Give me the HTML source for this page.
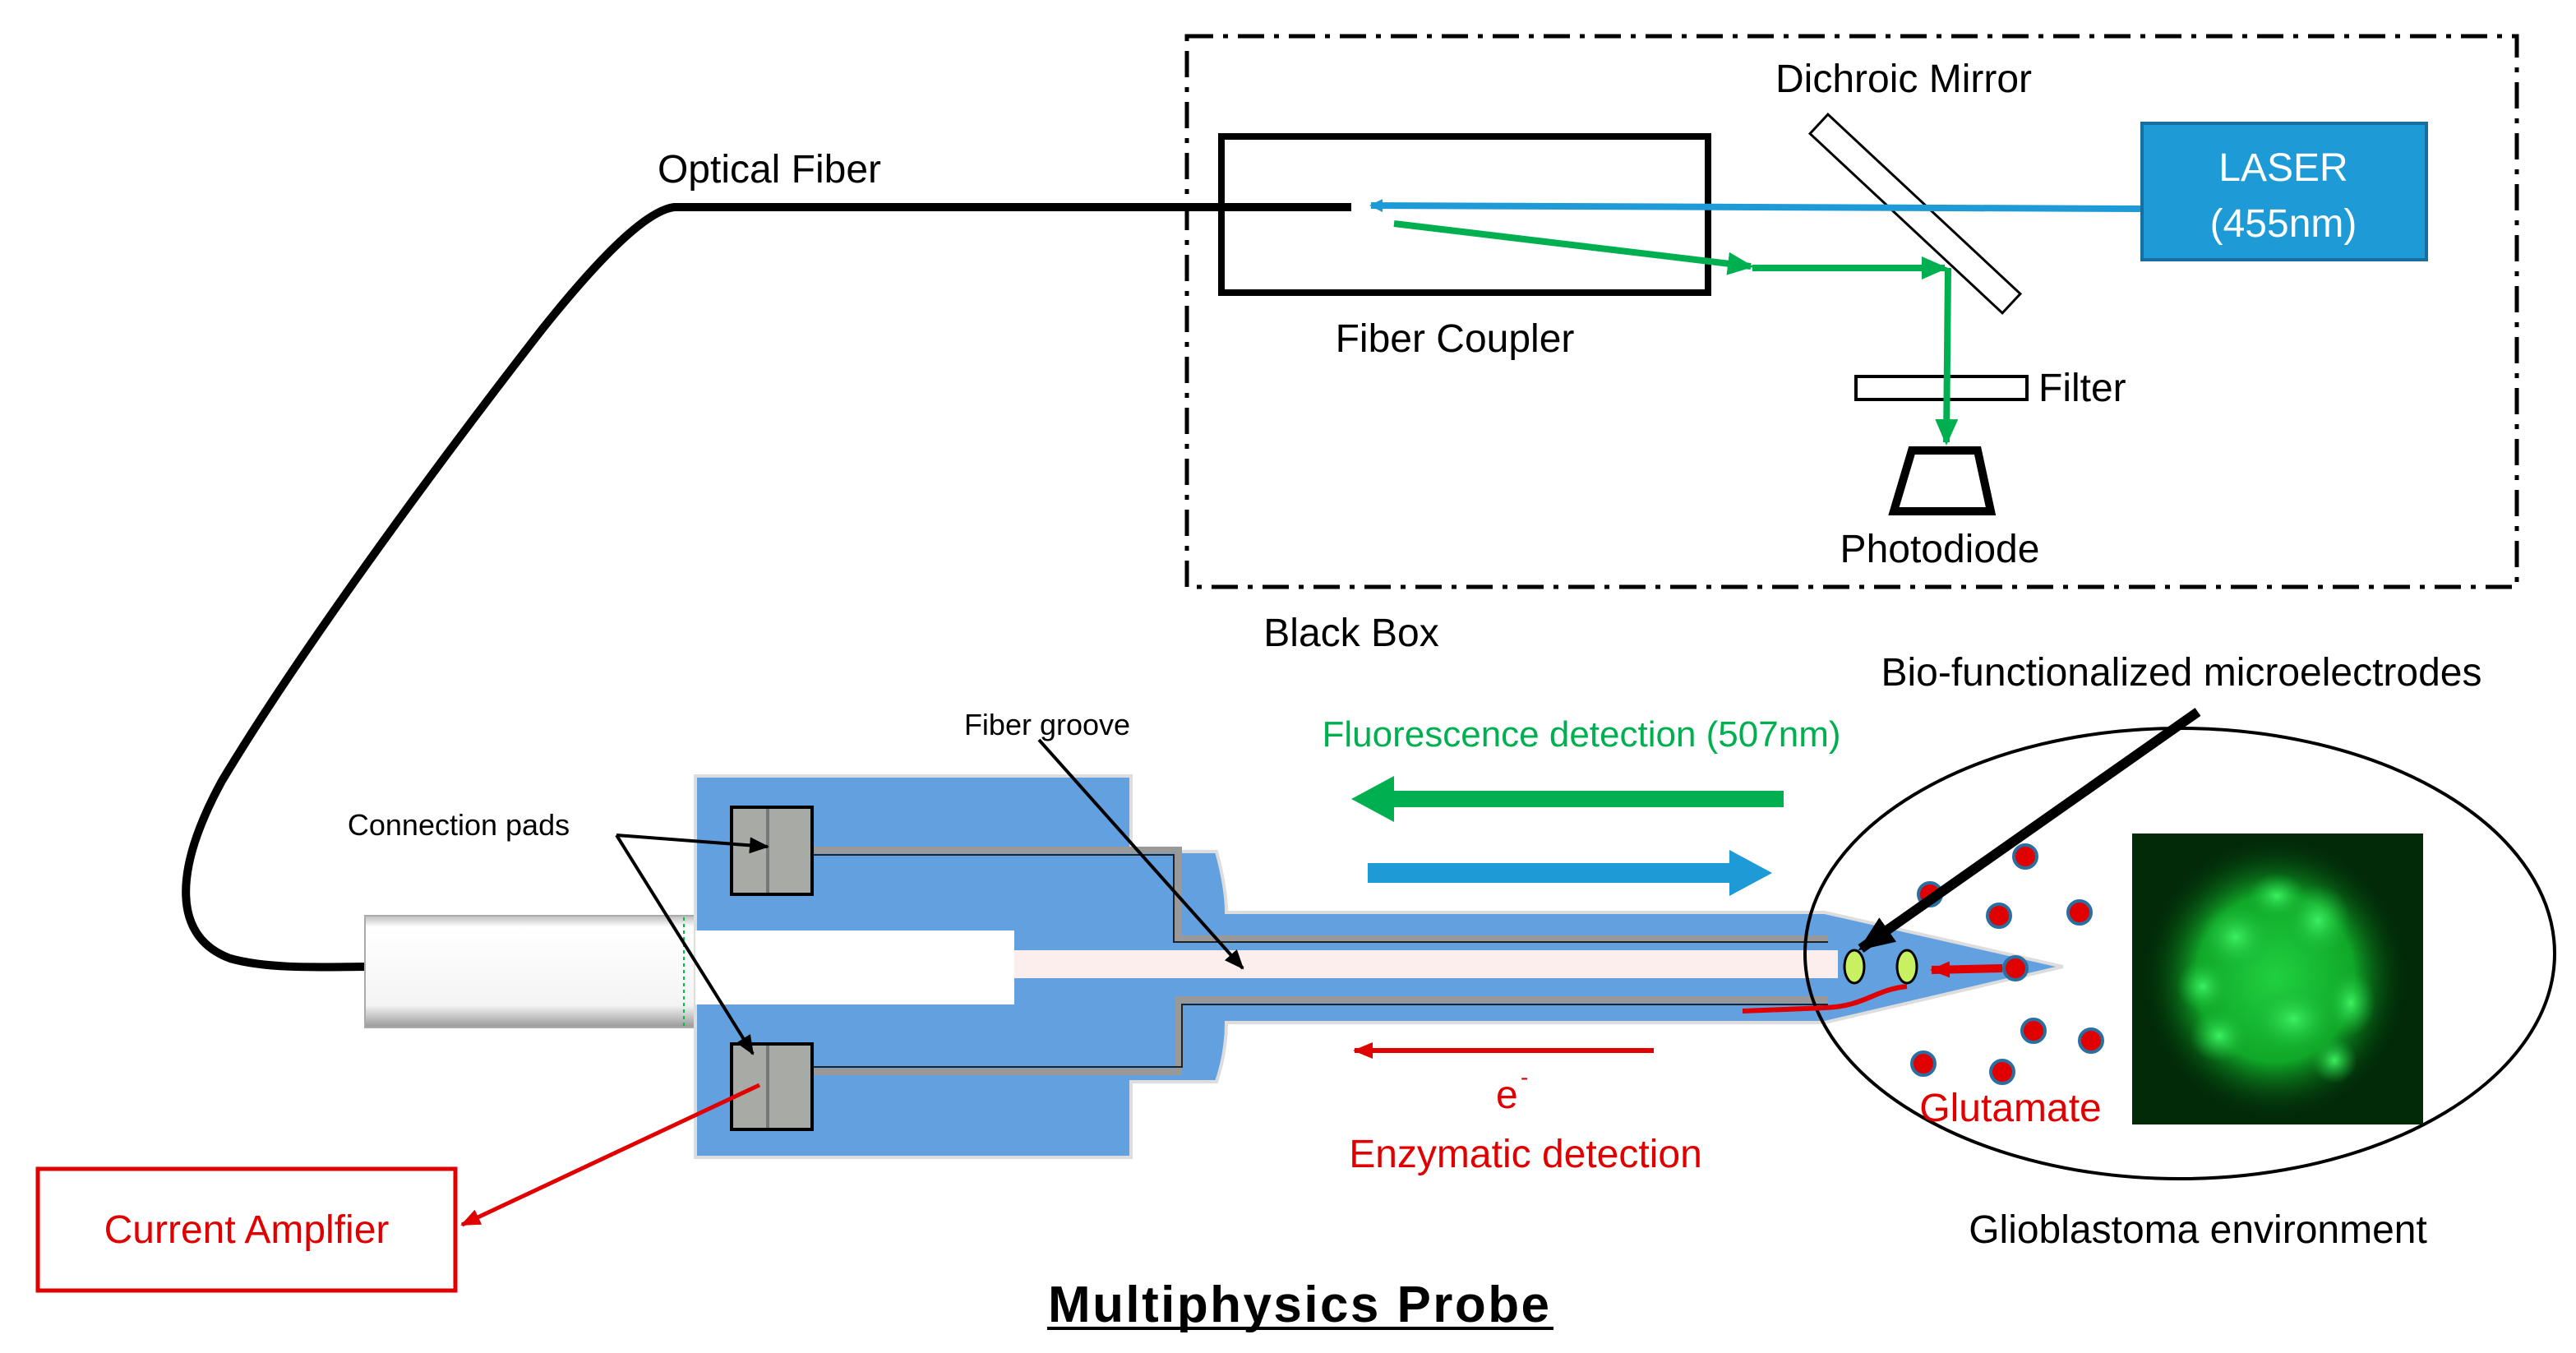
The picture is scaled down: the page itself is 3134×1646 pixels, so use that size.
<!DOCTYPE html>
<html><head><meta charset="utf-8"><style>
html,body{margin:0;padding:0;background:#fff;}
svg{display:block;}
text{font-family:"Liberation Sans","DejaVu Sans",sans-serif;}
</style></head><body>
<svg width="3134" height="1646" viewBox="0 0 1567 823" xmlns="http://www.w3.org/2000/svg">
<defs>
<marker id="ab" markerWidth="8" markerHeight="8" refX="7" refY="4" orient="auto" markerUnits="userSpaceOnUse"><path d="M0,0 L8,4 L0,8 Z" fill="#1e9ad6"/></marker>
<marker id="ag" markerWidth="16" markerHeight="14" refX="14" refY="7" orient="auto" markerUnits="userSpaceOnUse"><path d="M0,0 L16,7 L0,14 Z" fill="#00b050"/></marker>
<marker id="ak" markerWidth="12" markerHeight="10" refX="11" refY="5" orient="auto" markerUnits="userSpaceOnUse"><path d="M0,0 L12,5 L0,10 Z" fill="#000"/></marker>
<marker id="ak2" markerWidth="22" markerHeight="18" refX="20" refY="9" orient="auto" markerUnits="userSpaceOnUse"><path d="M0,0 L22,9 L0,18 Z" fill="#000"/></marker>
<marker id="ar" markerWidth="12" markerHeight="10" refX="11" refY="5" orient="auto" markerUnits="userSpaceOnUse"><path d="M0,0 L12,5 L0,10 Z" fill="#e00000"/></marker>
<linearGradient id="cyl" x1="0" y1="0" x2="0" y2="1"><stop offset="0" stop-color="#bbb"/><stop offset="0.1" stop-color="#fff"/><stop offset="0.8" stop-color="#f4f4f4"/><stop offset="1" stop-color="#999"/></linearGradient>
<radialGradient id="glow" cx="0.5" cy="0.5" r="0.5"><stop offset="0" stop-color="#20d040"/><stop offset="0.6" stop-color="#10a828"/><stop offset="1" stop-color="#033a0c" stop-opacity="0"/></radialGradient>
<radialGradient id="blob" cx="0.5" cy="0.5" r="0.5"><stop offset="0" stop-color="#3cf060"/><stop offset="1" stop-color="#18b034" stop-opacity="0"/></radialGradient>
</defs>

<rect x="722" y="22" width="809" height="335" fill="none" stroke="#000" stroke-width="2.5" stroke-dasharray="16,6,3,6"/>
<rect x="743" y="83" width="296" height="95" fill="none" stroke="#000" stroke-width="4"/>
<g transform="translate(1165,130) rotate(43)"><rect x="-80" y="-8" width="160" height="16" fill="#fff" stroke="#000" stroke-width="1.5"/></g>
<line x1="1302" y1="127" x2="834" y2="125" stroke="#1e9ad6" stroke-width="4" marker-end="url(#ab)"/>
<line x1="848" y1="136" x2="1065" y2="162" stroke="#00b050" stroke-width="4" marker-end="url(#ag)"/>
<line x1="1066" y1="163" x2="1183" y2="163" stroke="#00b050" stroke-width="4" marker-end="url(#ag)"/>
<rect x="1129" y="229" width="104" height="14" fill="none" stroke="#000" stroke-width="2"/>
<line x1="1185" y1="163" x2="1184" y2="269" stroke="#00b050" stroke-width="4" marker-end="url(#ag)"/>
<path d="M1163,274 L1203,274 L1211,311 L1152,311 Z" fill="none" stroke="#000" stroke-width="5"/>
<rect x="1303" y="75" width="173" height="83" fill="#1e9ad6" stroke="#176fa0" stroke-width="2"/>
<text x="1389" y="110" font-size="24" fill="#fff" text-anchor="middle">LASER</text>
<text x="1389" y="144" font-size="24" fill="#fff" text-anchor="middle">(455nm)</text>
<text x="1158" y="56" font-size="24" text-anchor="middle">Dichroic Mirror</text>
<text x="885" y="214" font-size="24" text-anchor="middle">Fiber Coupler</text>
<text x="1240" y="244" font-size="24">Filter</text>
<text x="1180" y="342" font-size="24" text-anchor="middle">Photodiode</text>
<text x="822" y="393" font-size="24" text-anchor="middle">Black Box</text>
<text x="468" y="111" font-size="24" text-anchor="middle">Optical Fiber</text>

<path d="M822,126 L410,126 C395,128 370,150 330,200 C260,290 180,400 135,475 C105,530 105,570 140,583 C165,590 200,588 225,588" fill="none" stroke="#000" stroke-width="5"/>

<rect x="222" y="557" width="201" height="68" fill="url(#cyl)" stroke="#aaa" stroke-width="1"/>
<line x1="416" y1="558" x2="416" y2="624" stroke="#00c040" stroke-width="1" stroke-dasharray="2,2"/>

<path d="M423,472 L688,472 L688,518 L740,518 Q746,540 746,555 L1110,555 L1255,588 L1110,622 L746,622 Q746,640 740,658 L688,658 L688,704 L423,704 Z" fill="#63a0e0" stroke="#ddd" stroke-width="2"/>
<rect x="423" y="566" width="194" height="45" fill="#fff"/>
<rect x="617" y="578" width="501" height="17" fill="#fdeeee"/>
<g fill="none" stroke-width="4">
<path d="M494,517 L717,517 L717,571 L1112,571" stroke="#999"/>
<path d="M494,652 L717,652 L717,608 L1112,608" stroke="#999"/>
</g>
<g fill="none" stroke="#222" stroke-width="1">
<path d="M494,520 L714,520 L714,573 L1112,573"/>
<path d="M494,649 L719,649 L719,611 L1112,611"/>
</g>
<rect x="445" y="491" width="49" height="53" fill="#a8aaa6" stroke="#000" stroke-width="2"/>
<line x1="467" y1="492" x2="467" y2="543" stroke="#777" stroke-width="2"/>
<rect x="445" y="635" width="49" height="52" fill="#a8aaa6" stroke="#000" stroke-width="2"/>
<line x1="467" y1="636" x2="467" y2="686" stroke="#777" stroke-width="2"/>

<ellipse cx="1326" cy="580" rx="228" ry="137" fill="none" stroke="#000" stroke-width="2"/>
<rect x="1297" y="507" width="177" height="177" fill="#022a08"/>
<ellipse cx="1384" cy="595" rx="80" ry="85" fill="url(#glow)"/>
<g fill="url(#blob)">
<ellipse cx="1360" cy="570" rx="22" ry="20"/><ellipse cx="1410" cy="560" rx="20" ry="22"/>
<ellipse cx="1395" cy="620" rx="25" ry="20"/><ellipse cx="1350" cy="630" rx="18" ry="16"/>
<ellipse cx="1430" cy="610" rx="15" ry="20"/><ellipse cx="1385" cy="545" rx="18" ry="14"/>
<ellipse cx="1340" cy="600" rx="16" ry="16"/><ellipse cx="1420" cy="645" rx="14" ry="14"/>
</g>
<path d="M1160,600 C1140,602 1135,612 1110,613 L1060,615" fill="none" stroke="#e00000" stroke-width="3"/>
<ellipse cx="1128" cy="588" rx="6" ry="10" fill="#c8f060" stroke="#000" stroke-width="1.5"/>
<ellipse cx="1160" cy="588" rx="6" ry="10" fill="#c8f060" stroke="#000" stroke-width="1.5"/>
<line x1="1218" y1="589" x2="1175" y2="590" stroke="#e00000" stroke-width="5" marker-end="url(#ar)"/>
<g fill="#e00000" stroke="#2a6fa0" stroke-width="2">
<circle cx="1232" cy="521" r="7"/><circle cx="1174" cy="544" r="7"/><circle cx="1216" cy="557" r="7"/>
<circle cx="1265" cy="555" r="7"/><circle cx="1226" cy="589" r="7"/><circle cx="1237" cy="627" r="7"/>
<circle cx="1272" cy="633" r="7"/><circle cx="1170" cy="647" r="7"/><circle cx="1218" cy="652" r="7"/>
</g>
<line x1="1337" y1="433" x2="1132" y2="577" stroke="#000" stroke-width="6" marker-end="url(#ak2)"/>

<path d="M1085,481 L848,481 L848,472 L822,486 L848,500 L848,491 L1085,491 Z" fill="#00b050"/>
<path d="M832,525 L1052,525 L1052,517 L1078,531 L1052,545 L1052,537 L832,537 Z" fill="#1e9ad6"/>
<line x1="1006" y1="639" x2="824" y2="639" stroke="#e00000" stroke-width="3" marker-end="url(#ar)"/>

<text x="1327" y="417" font-size="24" text-anchor="middle">Bio-functionalized microelectrodes</text>
<text x="962" y="454" font-size="22" fill="#00b050" text-anchor="middle">Fluorescence detection (507nm)</text>
<text x="637" y="447" font-size="18" text-anchor="middle">Fiber groove</text>
<text x="279" y="508" font-size="18" text-anchor="middle">Connection pads</text>
<text x="910" y="674" font-size="24" fill="#e00000">e</text>
<text x="925" y="660" font-size="14" fill="#e00000">-</text>
<text x="928" y="710" font-size="24" fill="#e00000" text-anchor="middle">Enzymatic detection</text>
<text x="1223" y="682" font-size="24" fill="#e00000" text-anchor="middle">Glutamate</text>
<text x="1337" y="756" font-size="24" text-anchor="middle">Glioblastoma environment</text>

<line x1="375" y1="508" x2="467" y2="515" stroke="#000" stroke-width="2" marker-end="url(#ak)"/>
<line x1="375" y1="508" x2="458" y2="641" stroke="#000" stroke-width="2" marker-end="url(#ak)"/>
<line x1="632" y1="450" x2="756" y2="589" stroke="#000" stroke-width="2" marker-end="url(#ak)"/>

<rect x="23" y="711" width="254" height="74" fill="none" stroke="#e00000" stroke-width="2.5"/>
<text x="150" y="756" font-size="24" fill="#e00000" text-anchor="middle">Current Amplfier</text>
<line x1="462" y1="660" x2="281" y2="745" stroke="#e00000" stroke-width="2.5" marker-end="url(#ar)"/>

<text x="790" y="804" font-size="31" font-weight="bold" text-anchor="middle" textLength="305">Multiphysics Probe</text>
<line x1="637" y1="808" x2="945" y2="808" stroke="#000" stroke-width="2"/>
</svg>
</body></html>
